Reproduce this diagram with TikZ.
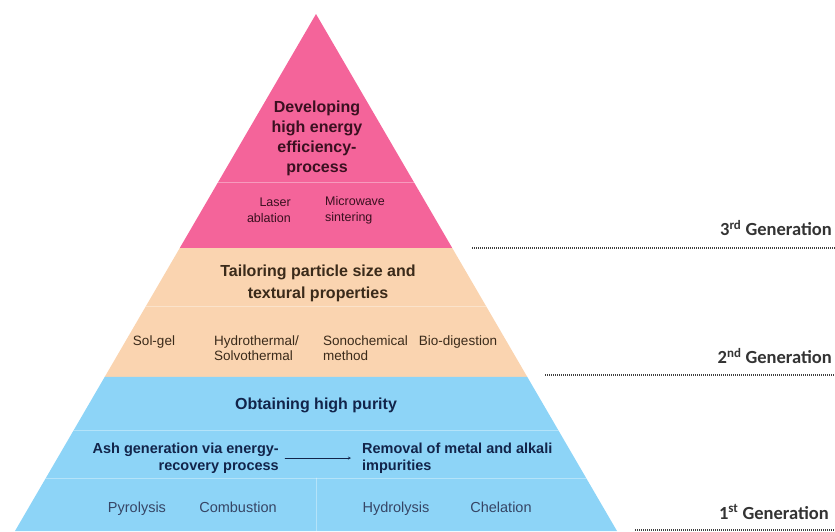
\documentclass[tikz,border=0pt]{standalone}
\usepackage{fontspec}
\setmainfont{Liberation Sans}
\newfontfamily\genfont{Carlito}
\usetikzlibrary{calc,arrows.meta}
\definecolor{cPink}{HTML}{F4649A}
\definecolor{cPeach}{HTML}{FAD4B0}
\definecolor{cBlue}{HTML}{8DD4F7}
\definecolor{tPink}{HTML}{3A1020}
\definecolor{tPeach}{HTML}{3A2A1A}
\definecolor{tBlue}{HTML}{12244A}
\tikzset{
  divline/.style={white, opacity=0.35, line width=0.9pt},
  headtxt/.style={inner sep=0pt, align=center, font=\fontsize{16}{20}\selectfont\bfseries},
  subtxt/.style={inner sep=0pt, font=\fontsize{13.5}{15.5}\selectfont},
  lowtxt/.style={inner sep=0pt, anchor=base, text=tBlue!85, font=\fontsize{14.5}{17}\selectfont},
  midtxt/.style={inner sep=0pt, font=\fontsize{14.5}{17}\selectfont\bfseries, text=tBlue},
  gentxt/.style={inner sep=0pt, anchor=east, text=black!80, font=\genfont\fontsize{18.5}{20}\selectfont\bfseries},
  genline/.style={black!75, line width=1.1pt, line cap=butt, dash pattern=on 1pt off 1pt}
}
\begin{document}
\begin{tikzpicture}[x=1pt, y=-1pt, >=stealth, line join=round, line cap=round]
	\useasboundingbox (0,0) rectangle (835,531);
	\coordinate (A) at (316,14);   % dinh kim tu thap
	\coordinate (L) at (15,531);
	\coordinate (R) at (617,531);
	\coordinate (Lp) at ($(A)!0.4526!(L)$); \coordinate (Rp) at ($(A)!0.4526!(R)$); % day tang hong
	\coordinate (Lo) at ($(A)!0.7021!(L)$); \coordinate (Ro) at ($(A)!0.7021!(R)$); % day tang cam
	\fill[cPink] (A) -- (Lp) -- (Rp) -- cycle;
	\fill[cPeach] (Lp) -- (Lo) -- (Ro) -- (Rp) -- cycle;
	\fill[cBlue] (Lo) -- (L) -- (R) -- (Ro) -- cycle;
	\foreach \t in {0.3250,0.5648,0.8046,0.8975}
		\draw[divline] ($(A)!\t!(L)$) -- ($(A)!\t!(R)$);
	\draw[divline] (316,478) -- (316,531);
	% tang 3
	\node[headtxt, text=tPink] (dev) at (317,138) {Developing\\high energy\\efficiency-\\process};
	\node[subtxt, text=tPink, anchor=east, align=right, font=\fontsize{12.5}{16}\selectfont] (laser) at (291,210) {Laser\\ablation};
	\node[subtxt, text=tPink, anchor=west, align=left, font=\fontsize{12.5}{16}\selectfont] (micro) at (325,210) {Microwave\\sintering};
	% tang 2
	\node[headtxt, text=tPeach, font=\fontsize{16}{22}\selectfont\bfseries] (tailor) at (318,283) {Tailoring particle size and\\textural properties};
	\node[subtxt, text=tPeach, anchor=base] (solgel) at (154,345) {Sol-gel};
	\node[subtxt, text=tPeach, anchor=west, align=left] (hydro) at (214,348) {Hydrothermal/\\Solvothermal};
	\node[subtxt, text=tPeach, anchor=west, align=left] (sono) at (323,348) {Sonochemical\\method};
	\node[subtxt, text=tPeach, anchor=base] (bio) at (458,345) {Bio-digestion};
	% tang 1
	\node[headtxt, text=tBlue] (purity) at (316,405) {Obtaining high purity};
	\node[midtxt, anchor=east, align=right] (ash) at (279,458) {Ash generation via energy-\\recovery process};
	\node[midtxt, anchor=west, align=left] (removal) at (362,458) {Removal of metal and alkali\\impurities};
	\draw[->, tBlue, thin, shorten <=6pt, shorten >=11pt] (ash.east) -- (removal.west);
	\node[lowtxt] (pyro) at (137,512) {Pyrolysis};
	\node[lowtxt] (comb) at (238,512) {Combustion};
	\node[lowtxt] (hydrol) at (396,512) {Hydrolysis};
	\node[lowtxt] (chel) at (501,512) {Chelation};
	% the he
	\node[gentxt] (gen3) at (832,228) {3\textsuperscript{rd} Generation};
	\node[gentxt] (gen2) at (832,356) {2\textsuperscript{nd} Generation};
	\node[gentxt] (gen1) at (829,512) {1\textsuperscript{st} Generation};
	\draw[genline] (472,248) -- (835,248);
	\draw[genline] (545,375) -- (835,375);
	\draw[genline] (635,530) -- (835,530);
\end{tikzpicture}
\end{document}
